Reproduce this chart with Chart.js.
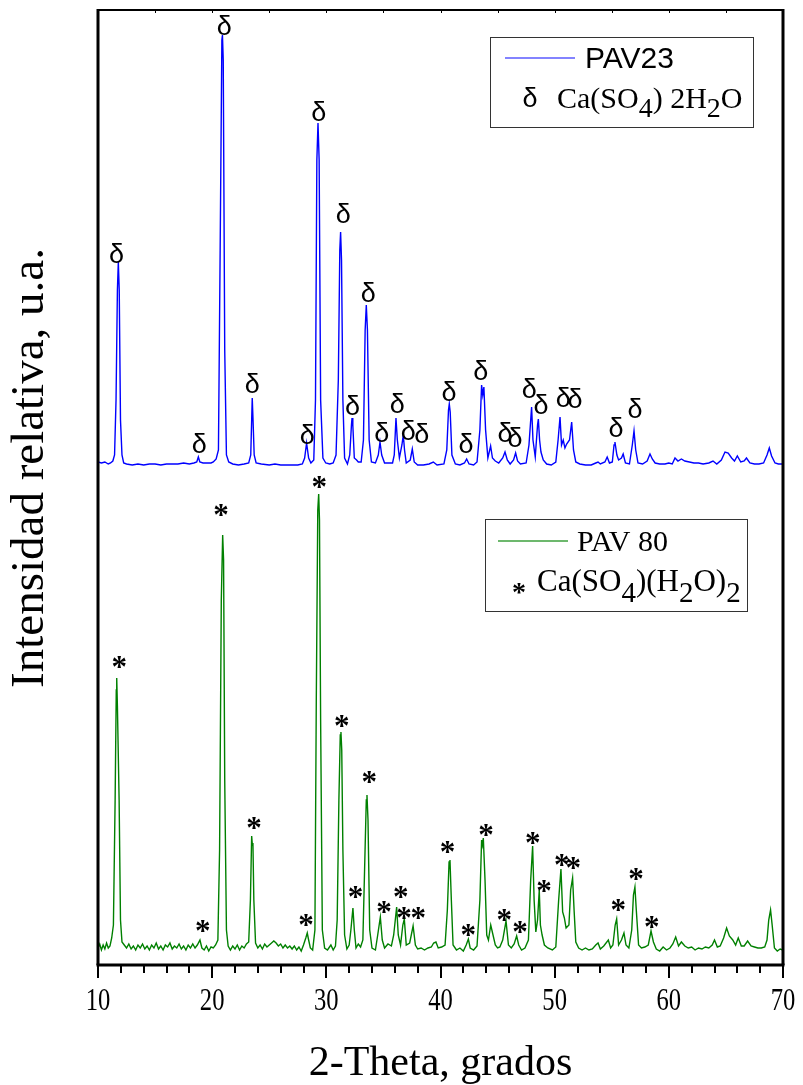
<!DOCTYPE html>
<html><head><meta charset="utf-8">
<script src="https://cdn.jsdelivr.net/npm/chart.js@4/dist/chart.umd.min.js"></script>
<style>html,body{margin:0;padding:0;background:#fff;}#wrap{width:803px;height:1085px;}</style>
</head><body><div id="wrap"><canvas id="c" width="803" height="1085"></canvas></div>
<script>
// ---- Data (2-Theta in degrees, intensity in arbitrary units) ----
const TT_PAV23 = [10.0,10.3,10.6,10.9,11.1,11.3,11.45,11.58,11.7,11.78,11.86,11.97,12.1,12.25,12.5,13.0,13.5,14.0,14.5,15.0,15.5,16.0,16.5,17.0,17.5,18.0,18.4,18.65,18.79,18.92,19.2,19.6,19.9,20.1,20.35,20.55,20.7,20.85,20.9,20.97,21.1,21.25,21.45,21.8,22.3,22.8,23.2,23.38,23.46,23.51,23.58,23.68,23.85,24.3,25.0,25.5,26.0,26.5,27.0,27.5,27.9,28.1,28.27,28.45,28.65,28.9,29.05,29.17,29.27,29.37,29.5,29.7,29.95,30.3,30.6,30.85,31.05,31.18,31.25,31.33,31.45,31.6,31.85,32.05,32.2,32.25,32.32,32.45,32.65,32.8,33.05,33.25,33.4,33.5,33.6,33.75,33.95,34.3,34.55,34.7,34.85,35.1,35.5,35.8,35.95,36.1,36.22,36.4,36.62,36.74,36.85,37.0,37.35,37.53,37.7,38.0,38.5,39.0,39.37,39.7,40.3,40.55,40.7,40.77,40.85,41.0,41.3,41.7,42.1,42.29,42.5,42.9,43.2,43.45,43.6,43.7,43.8,43.95,44.15,44.39,44.55,44.8,45.1,45.45,45.65,45.85,46.1,46.4,46.58,46.75,47.0,47.5,47.75,47.98,48.1,48.3,48.5,48.57,48.68,48.8,49.0,49.3,49.7,50.1,50.3,50.47,50.6,50.75,50.9,51.05,51.3,51.49,51.65,51.85,52.2,52.7,53.2,53.6,53.8,54.0,54.4,54.6,54.8,55.05,55.2,55.28,55.45,55.6,55.85,56.0,56.2,56.55,56.8,56.95,57.1,57.3,57.7,58.1,58.35,58.55,58.8,59.2,59.66,60.0,60.3,60.54,60.8,61.1,61.4,61.8,62.2,62.6,63.0,63.5,63.87,64.2,64.6,64.92,65.2,65.5,65.75,66.0,66.3,66.6,66.8,67.1,67.5,67.9,68.3,68.6,68.8,69.0,69.3,69.6,70.0];
const I_PAV23 = [23,22,23,21,22,24,30,85,195,223,195,65,30,22,21,20,21,20,21,21,20,21,21,21,22,21,22,23,28,23,22,22,22,23,26,35,235,445,450,425,135,30,23,21,20,21,22,30,65,87,65,30,22,21,20,21,20,20,20,20,21,27,42,27,22,25,85,325,362,325,85,27,22,21,22,30,105,235,253,225,85,27,21,30,60,67,60,27,25,23,23,45,155,180,155,45,23,22,30,43,30,22,22,22,30,67,45,27,40,50,35,22,25,36,23,20,20,21,23,20,21,35,75,81,73,30,21,20,22,26,21,20,23,55,100,90,98,55,27,39,27,24,22,27,33,25,21,25,32,24,21,22,40,78,45,28,60,66,45,33,25,21,20,23,45,68,40,45,37,41,45,63,35,23,21,20,20,22,23,21,23,28,22,23,40,43,30,25,27,31,22,21,40,54,35,22,21,24,31,26,22,21,21,22,21,27,24,26,24,23,22,22,21,22,24,21,25,33,32,27,24,29,23,24,27,22,21,21,22,30,37,29,22,21,21];
const TT_PAV80 = [10.0,10.15,10.3,10.45,10.6,10.75,10.9,11.05,11.2,11.35,11.5,11.6,11.64,11.7,11.75,11.85,11.97,12.1,12.3,12.5,12.7,12.9,13.1,13.3,13.5,13.7,13.9,14.1,14.3,14.5,14.7,14.9,15.1,15.3,15.5,15.7,15.9,16.1,16.3,16.5,16.7,16.9,17.1,17.3,17.5,17.7,17.9,18.1,18.3,18.5,18.7,18.93,19.1,19.3,19.5,19.7,19.9,20.1,20.3,20.5,20.65,20.8,20.92,21.0,21.1,21.25,21.4,21.6,21.8,22.0,22.2,22.4,22.6,22.8,23.0,23.2,23.35,23.46,23.52,23.57,23.65,23.8,24.0,24.2,24.4,24.6,24.8,25.0,25.2,25.4,25.6,25.8,26.0,26.2,26.4,26.6,26.8,27.0,27.2,27.4,27.6,27.8,28.0,28.2,28.33,28.45,28.6,28.8,29.0,29.12,29.25,29.33,29.4,29.5,29.65,29.85,30.1,30.4,30.6,30.8,30.95,31.1,31.22,31.28,31.35,31.45,31.6,31.8,32.0,32.15,32.33,32.45,32.6,32.8,33.0,33.2,33.35,33.5,33.56,33.65,33.8,34.0,34.3,34.5,34.73,34.9,35.1,35.4,35.7,35.9,36.16,36.3,36.5,36.7,36.83,37.0,37.3,37.6,37.8,38.0,38.3,38.6,38.9,39.2,39.4,39.6,39.8,40.1,40.4,40.6,40.75,40.83,40.95,41.1,41.4,41.7,42.0,42.25,42.44,42.6,42.9,43.2,43.45,43.6,43.67,43.75,43.9,44.05,44.2,44.4,44.6,44.8,45.0,45.2,45.45,45.74,45.95,46.2,46.45,46.67,46.85,47.1,47.4,47.7,47.9,48.07,48.2,48.35,48.5,48.65,48.75,48.9,49.1,49.4,49.8,50.1,50.35,50.55,50.7,50.85,51.0,51.25,51.4,51.57,51.7,51.85,52.1,52.4,52.7,53.0,53.3,53.6,53.8,54.0,54.3,54.7,54.9,55.1,55.3,55.43,55.6,55.85,56.07,56.25,56.5,56.75,56.9,57.03,57.15,57.35,57.6,57.9,58.2,58.44,58.65,58.9,59.2,59.5,59.8,60.1,60.35,60.6,60.85,61.1,61.4,61.7,62.0,62.3,62.6,62.9,63.2,63.5,63.8,64.0,64.25,64.5,64.8,65.06,65.3,65.6,65.85,66.08,66.35,66.6,66.9,67.2,67.5,67.8,68.1,68.4,68.6,68.75,68.91,69.05,69.25,69.5,69.75,70.0];
const I_PAV80 = [17,21,15,20,16,22,17,19,27,40,165,275,287,259,259,165,45,23,20,17,21,16,19,15,20,17,21,16,19,15,20,17,22,16,19,15,20,18,22,16,19,17,21,16,19,15,20,17,21,17,20,25,17,15,19,14,18,17,20,25,115,365,430,405,185,35,19,15,19,16,20,15,19,17,21,23,65,129,120,122,65,22,17,20,16,21,18,20,22,24,22,19,21,17,20,17,19,16,19,15,18,14,20,27,32,25,17,15,35,265,455,471,445,245,35,17,15,20,15,19,45,165,230,233,215,115,30,16,20,35,57,35,17,21,18,25,95,165,170,145,35,17,15,30,48,25,17,21,19,30,58,30,20,40,46,20,22,39,20,16,17,15,17,18,22,23,17,18,20,55,103,105,65,20,15,17,14,20,26,17,15,19,65,125,120,127,85,30,25,40,30,20,17,18,25,44,20,17,21,29,20,15,17,25,85,119,65,33,45,75,40,30,20,17,15,18,65,96,53,47,37,40,75,87,55,23,17,15,17,15,16,20,22,16,19,25,17,20,40,46,20,25,32,20,17,35,70,78,55,20,17,18,20,34,23,16,14,18,15,17,21,28,19,23,19,17,18,15,17,16,18,17,20,25,18,19,27,37,29,25,20,27,19,19,24,19,18,17,17,18,25,45,55,40,17,14,16,15];
const OFFSET_PAV23 = 480;   // vertical stacking offset of the PAV23 pattern
// Phase markers: peak positions (2-Theta) and label heights (same units as the pattern)
const DELTA_TT  = [11.63,18.87,21.06,23.52,28.34,29.33,31.49,32.30,33.68,34.85,36.22,37.18,38.35,40.74,42.23,43.52,45.65,46.52,47.78,48.80,50.76,51.78,55.37,57.03];
const DELTA_I   = [232,42,460,102,51,374,272,80,193,53,82,55,52,94,42,115,53,48,97,81,88,87,58,77];
const STAR_TT   = [11.87,19.17,20.77,23.66,28.22,29.39,31.34,32.56,33.77,35.05,36.51,36.80,38.06,40.62,42.43,43.98,45.59,46.96,48.07,49.06,50.61,51.63,55.57,57.12,58.50];
const STAR_I    = [304,40,456,143,46,484,245,74,189,59,74,53,53,119,36,136,51,39,128,80,106,103,61,92,44];
const X_MAJOR_TICKS = [10,20,30,40,50,60,70];
const X_MINOR_STEP = 2;
const X_TITLE = '2-Theta, grados';
const Y_TITLE = 'Intensidad relativa, u.a.';
const SERIES_NAMES = ['PAV23','PAV 80'];

const pts = (xs, ys, off) => xs.map((x, i) => ({x: x, y: ys[i] + off}));

const SERIF = '"Liberation Serif","Times New Roman",serif';
const SANS = '"Liberation Sans",Arial,sans-serif';

function drawRich(ctx, segs, x, y, mainSize, subSize, subDrop) {
  let cx = x;
  for (const s of segs) {
    ctx.font = (s.sub ? subSize : mainSize) + 'px ' + SERIF;
    ctx.fillText(s.t, cx, s.sub ? y + subDrop : y);
    cx += ctx.measureText(s.t).width;
  }
}

const decor = {
  id: 'decor',
  afterDatasetsDraw(chart) {
    const ctx = chart.ctx, a = chart.chartArea;
    const xs = chart.scales.x, ys = chart.scales.y;
    ctx.save();
    ctx.fillStyle = '#000';
    // phase markers
    ctx.textAlign = 'center';
    ctx.textBaseline = 'alphabetic';
    ctx.font = '27px ' + SANS;
    DELTA_TT.forEach((t, i) => {
      ctx.fillText('δ', xs.getPixelForValue(t), ys.getPixelForValue(DELTA_I[i] + OFFSET_PAV23) + 10);
    });
    ctx.font = 'bold 31px ' + SERIF;
    STAR_TT.forEach((t, i) => {
      ctx.fillText('*', xs.getPixelForValue(t), ys.getPixelForValue(STAR_I[i]) + 16);
    });
    // frame
    ctx.strokeStyle = '#000';
    ctx.lineWidth = 2;
    ctx.beginPath(); ctx.moveTo(a.left, a.top); ctx.lineTo(a.right, a.top); ctx.stroke();
    ctx.lineWidth = 3;
    ctx.beginPath(); ctx.moveTo(a.left, a.top - 1); ctx.lineTo(a.left, a.bottom); ctx.stroke();
    ctx.beginPath(); ctx.moveTo(a.right, a.top - 1); ctx.lineTo(a.right, a.bottom); ctx.stroke();
    ctx.beginPath(); ctx.moveTo(a.left - 1.5, a.bottom); ctx.lineTo(a.right + 1.5, a.bottom); ctx.stroke();
    // x ticks
    ctx.lineWidth = 2;
    for (let v = xs.min; v <= xs.max + 1e-9; v += X_MINOR_STEP) {
      const px = Math.round(xs.getPixelForValue(v));
      const major = X_MAJOR_TICKS.includes(v);
      ctx.beginPath(); ctx.moveTo(px, a.bottom); ctx.lineTo(px, a.bottom + (major ? 13 : 8)); ctx.stroke();
    }
    ctx.lineWidth = 1;
    for (let v = xs.min + 5; v < xs.max; v += 5) {
      const px = Math.round(xs.getPixelForValue(v)) + 0.5;
      ctx.beginPath(); ctx.moveTo(px, a.top); ctx.lineTo(px, a.top + 3); ctx.stroke();
    }
    // tick labels
    ctx.textAlign = 'center';
    ctx.font = '30px ' + SERIF;
    X_MAJOR_TICKS.forEach(v => {
      const px = xs.getPixelForValue(v);
      ctx.save(); ctx.translate(px, a.bottom + 45); ctx.scale(0.82, 1.08);
      ctx.fillText(String(v), 0, 0); ctx.restore();
    });
    // axis titles
    ctx.font = '42px ' + SERIF;
    ctx.fillText(X_TITLE, (a.left + a.right) / 2, a.bottom + 110);
    ctx.save();
    ctx.translate(43, 468); ctx.rotate(-Math.PI / 2);
    ctx.font = '47px ' + SERIF;
    ctx.fillText(Y_TITLE, 0, 0);
    ctx.restore();
    // legend 1 (PAV23)
    ctx.textAlign = 'left';
    ctx.lineWidth = 1; ctx.strokeStyle = '#333';
    ctx.strokeRect(490.5, 37.5, 263, 90);
    ctx.strokeStyle = 'rgb(90,90,255)'; ctx.lineWidth = 1.5;
    ctx.beginPath(); ctx.moveTo(505, 58); ctx.lineTo(575, 58); ctx.stroke();
    ctx.font = '30px ' + SANS;
    ctx.fillText(SERIES_NAMES[0], 585, 68);
    ctx.textAlign = 'center';
    ctx.font = '27px ' + SANS;
    ctx.fillText('δ', 530, 107);
    ctx.textAlign = 'left';
    drawRich(ctx, [{t:'Ca(SO'},{t:'4',sub:true},{t:') 2H'},{t:'2',sub:true},{t:'O'}], 557, 108, 30, 28, 9);
    // legend 2 (PAV 80)
    ctx.lineWidth = 1; ctx.strokeStyle = '#333';
    ctx.strokeRect(485.5, 519.5, 262, 92);
    ctx.strokeStyle = 'rgb(60,160,60)'; ctx.lineWidth = 1.5;
    ctx.beginPath(); ctx.moveTo(498, 541); ctx.lineTo(568, 541); ctx.stroke();
    ctx.font = '30px ' + SERIF;
    ctx.fillText(SERIES_NAMES[1], 577, 551);
    ctx.textAlign = 'center';
    ctx.font = 'bold 28px ' + SERIF;
    ctx.fillText('*', 519, 601);
    ctx.textAlign = 'left';
    drawRich(ctx, [{t:'Ca(SO'},{t:'4',sub:true},{t:')(H'},{t:'2',sub:true},{t:'O)'},{t:'2',sub:true}], 537, 591, 31, 29, 11);
    ctx.restore();
  }
};

new Chart(document.getElementById('c'), {
  type: 'line',
  data: {
    datasets: [
      {label: SERIES_NAMES[0], data: pts(TT_PAV23, I_PAV23, OFFSET_PAV23), borderColor: '#0000ff', borderWidth: 1.4, pointRadius: 0, tension: 0, fill: false},
      {label: SERIES_NAMES[1], data: pts(TT_PAV80, I_PAV80, 0), borderColor: '#008000', borderWidth: 1.4, pointRadius: 0, tension: 0, fill: false}
    ]
  },
  options: {
    responsive: false, devicePixelRatio: 1, animation: false,
    layout: {padding: {left: 98, top: 10, right: 20, bottom: 120}},
    plugins: {legend: {display: false}, tooltip: {enabled: false}},
    scales: {
      x: {type: 'linear', min: 10, max: 70, display: false},
      y: {type: 'linear', min: 0, max: 955, display: false}
    }
  },
  plugins: [decor]
});
</script>
</body></html>
